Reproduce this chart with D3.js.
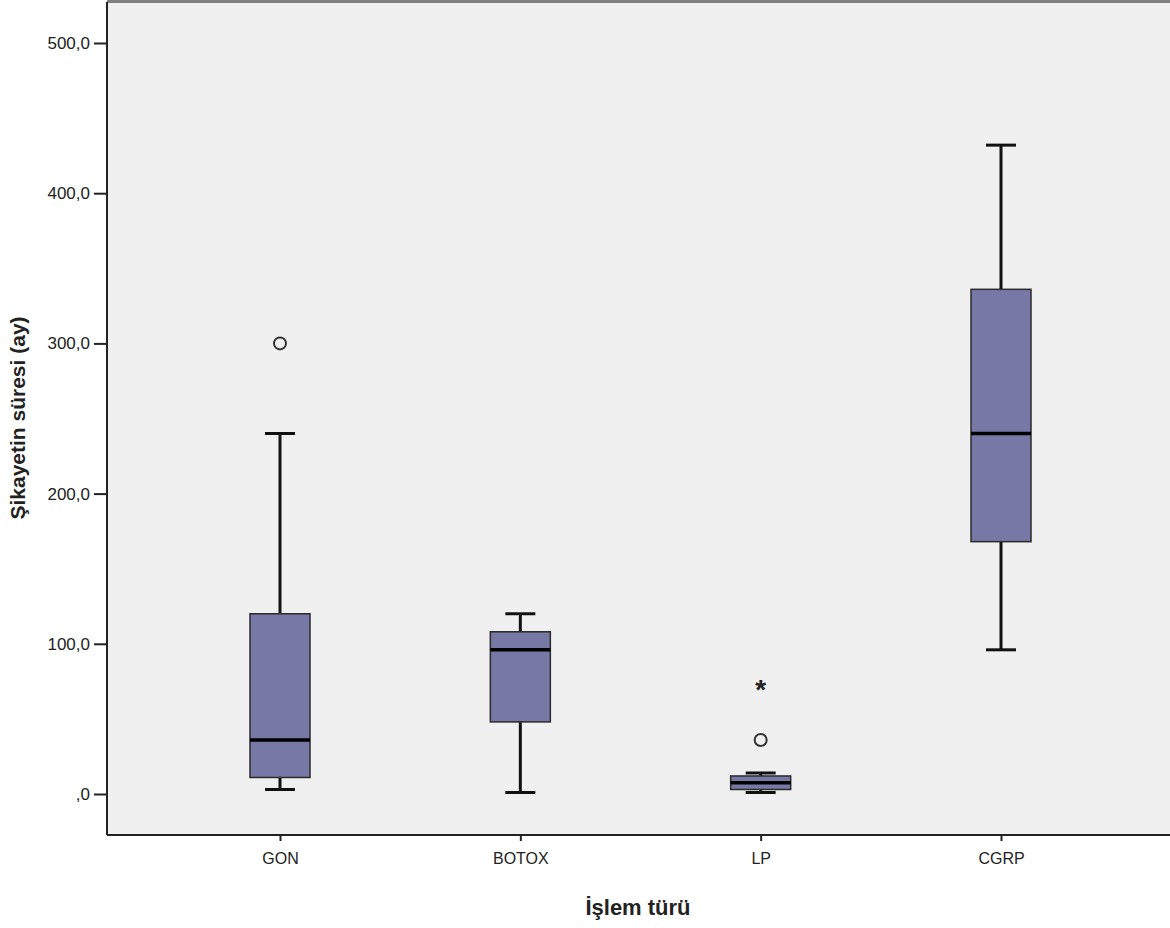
<!DOCTYPE html>
<html>
<head>
<meta charset="utf-8">
<script src="https://cdn.jsdelivr.net/npm/d3@7"></script>
<style>
  body { margin: 0; background: #fff; }
  svg { display: block; font-family: Arial, "Liberation Sans", sans-serif; }
</style>
</head>
<body>
<svg id="chart" width="1170" height="928"></svg>
<script>
// values (months)
const groups = ["GON", "BOTOX", "LP", "CGRP"];
const lowWhisker = [3, 1, 1, 96];
const q1 = [11, 48, 3, 168];
const medians = [36, 96, 7.5, 240];
const q3 = [120, 108, 12, 336];
const highWhisker = [240, 120, 14, 432];
// outliers: [group, value, kind]
const outliers = [["GON", 300, "o"], ["LP", 36, "o"], ["LP", 72, "*"]];
const yTicks = [0, 100, 200, 300, 400, 500];

const plot = { left: 107, top: 2, right: 1175, bottom: 835 };

const svg = d3.select("#chart");

const x = d3.scalePoint()
    .domain(groups)
    .range([280, 1001]);

const y = d3.scaleLinear()
    .domain([0, 500])
    .range([794, 43]);

const boxW = 60, capW = 30;

// plot background + frame
svg.append("rect")
    .attr("x", plot.left)
    .attr("y", plot.top)
    .attr("width", plot.right - plot.left)
    .attr("height", plot.bottom - plot.top)
    .attr("fill", "#f0f0f0");

svg.append("line")
    .attr("x1", plot.left).attr("x2", plot.right)
    .attr("y1", 1.5).attr("y2", 1.5)
    .attr("stroke", "#7f7f7f").attr("stroke-width", 3);

// axes
const fmt = d => d === 0 ? ",0" : d3.format(".1f")(d).replace(".", ",");

const yAxis = svg.append("g")
    .attr("transform", `translate(${plot.left},0)`)
    .call(d3.axisLeft(y).tickValues(yTicks).tickFormat(fmt).tickSize(13).tickPadding(4));
yAxis.select(".domain").attr("d", `M0,${plot.top}V${plot.bottom}`);

const xAxis = svg.append("g")
    .attr("transform", `translate(0,${plot.bottom})`)
    .call(d3.axisBottom(x).tickSize(6).tickPadding(12));
xAxis.select(".domain").attr("d", `M${plot.left},0H${plot.right}`);

svg.selectAll(".domain").attr("stroke", "#222").attr("stroke-width", 2);
svg.selectAll(".tick line").attr("stroke", "#222").attr("stroke-width", 2);
yAxis.selectAll(".tick text").attr("font-size", 17).attr("fill", "#222");
xAxis.selectAll(".tick text").attr("font-size", 16).attr("fill", "#222");

// axis titles
svg.append("text")
    .attr("x", 638).attr("y", 915)
    .attr("text-anchor", "middle")
    .attr("font-size", 22).attr("font-weight", "bold").attr("fill", "#222")
    .text("İşlem türü");

svg.append("text")
    .attr("transform", "translate(25,418) rotate(-90)")
    .attr("text-anchor", "middle")
    .attr("font-size", 21).attr("font-weight", "bold").attr("fill", "#222")
    .text("Şikayetin süresi (ay)");

// boxes
const data = groups.map((g, i) => ({
    g, lo: lowWhisker[i], q1: q1[i], med: medians[i], q3: q3[i], hi: highWhisker[i]
}));

const box = svg.append("g").selectAll("g")
    .data(data)
    .join("g");

// whiskers
box.append("line")
    .attr("x1", d => x(d.g)).attr("x2", d => x(d.g))
    .attr("y1", d => y(d.hi)).attr("y2", d => y(d.lo))
    .attr("stroke", "#111").attr("stroke-width", 3);

box.append("line")
    .attr("x1", d => x(d.g) - capW / 2).attr("x2", d => x(d.g) + capW / 2)
    .attr("y1", d => y(d.hi)).attr("y2", d => y(d.hi))
    .attr("stroke", "#111").attr("stroke-width", 3);

box.append("line")
    .attr("x1", d => x(d.g) - capW / 2).attr("x2", d => x(d.g) + capW / 2)
    .attr("y1", d => y(d.lo)).attr("y2", d => y(d.lo))
    .attr("stroke", "#111").attr("stroke-width", 3);

box.append("rect")
    .attr("x", d => x(d.g) - boxW / 2)
    .attr("width", boxW)
    .attr("y", d => y(d.q3))
    .attr("height", d => y(d.q1) - y(d.q3))
    .attr("fill", "#7878a6")
    .attr("stroke", "#2a2a2a")
    .attr("stroke-width", 1.5);

box.append("line")
    .attr("x1", d => x(d.g) - boxW / 2).attr("x2", d => x(d.g) + boxW / 2)
    .attr("y1", d => y(d.med)).attr("y2", d => y(d.med))
    .attr("stroke", "#000").attr("stroke-width", 3.5);

// outliers
const out = svg.append("g");
out.selectAll("circle")
    .data(outliers.filter(d => d[2] === "o"))
    .join("circle")
    .attr("cx", d => x(d[0]))
    .attr("cy", d => y(d[1]))
    .attr("r", 6)
    .attr("fill", "none")
    .attr("stroke", "#333")
    .attr("stroke-width", 2);

out.selectAll("text")
    .data(outliers.filter(d => d[2] === "*"))
    .join("text")
    .attr("x", d => x(d[0]))
    .attr("y", d => y(d[1]) + 13)
    .attr("text-anchor", "middle")
    .attr("font-size", 28)
    .attr("font-weight", "bold")
    .attr("fill", "#222")
    .text("*");
</script>
</body>
</html>
